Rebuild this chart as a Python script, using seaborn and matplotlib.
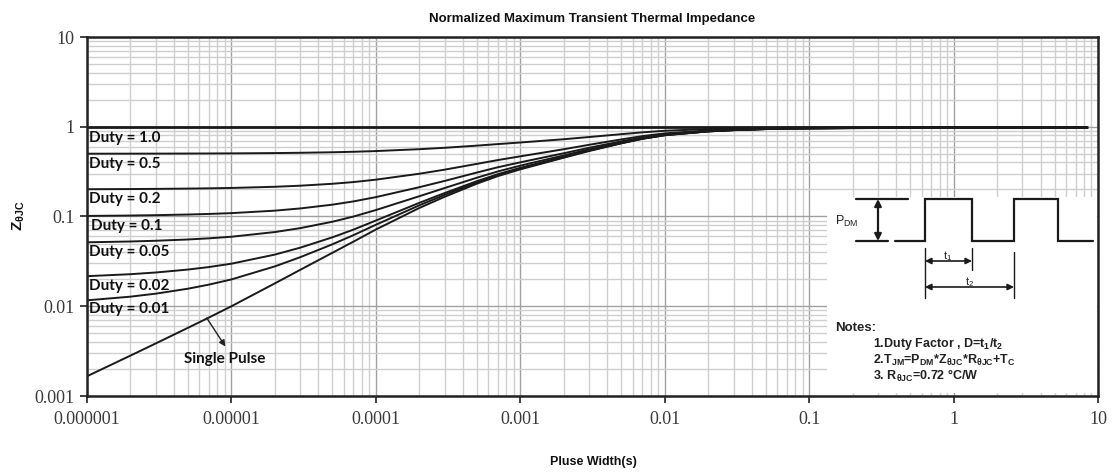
import numpy as np
import pandas as pd
import matplotlib
matplotlib.use("Agg")
import matplotlib.pyplot as plt
import seaborn as sns

# ---------------- data ----------------
pulse_width = [1e-6, 2e-6, 3e-6, 5e-6, 7e-6,
               1e-5, 2e-5, 3e-5, 5e-5, 7e-5,
               1e-4, 2e-4, 3e-4, 5e-4, 7e-4,
               1e-3, 2e-3, 3e-3, 5e-3, 7e-3,
               1e-2, 2e-2, 3e-2, 5e-2, 7e-2,
               0.1, 0.2, 0.5, 1.0, 8.5]

z_duty_1_0 = [1.0] * 30
z_duty_0_5 = [0.5008, 0.5014, 0.5019, 0.5029, 0.5038,
              0.505, 0.509, 0.5128, 0.5197, 0.5263,
              0.5358, 0.5623, 0.583, 0.616, 0.641,
              0.6675, 0.726, 0.7685, 0.8265, 0.8665,
              0.902, 0.9435, 0.958, 0.971, 0.9765,
              0.9795, 0.983, 0.985, 0.985, 0.985]
z_duty_0_2 = [0.2013, 0.2023, 0.2031, 0.2046, 0.206,
              0.208, 0.2144, 0.2204, 0.2315, 0.242,
              0.2573, 0.2996, 0.3328, 0.3856, 0.4256,
              0.468, 0.5616, 0.6296, 0.7224, 0.7864,
              0.8432, 0.9096, 0.9328, 0.9536, 0.9624,
              0.9672, 0.9728, 0.976, 0.976, 0.976]
z_duty_0_1 = [0.1015, 0.1025, 0.1035, 0.1052, 0.1068,
              0.109, 0.1162, 0.123, 0.1355, 0.1473,
              0.1644, 0.2121, 0.2494, 0.3088, 0.3538,
              0.4015, 0.5068, 0.5833, 0.6877, 0.7597,
              0.8236, 0.8983, 0.9244, 0.9478, 0.9577,
              0.9631, 0.9694, 0.973, 0.973, 0.973]
z_duty_0_05 = [0.05158, 0.05268, 0.05367, 0.05546, 0.05713,
               0.0595, 0.0671, 0.07423, 0.08743, 0.09988,
               0.118, 0.1683, 0.2077, 0.2704, 0.3179,
               0.3683, 0.4794, 0.5602, 0.6704, 0.7464,
               0.8138, 0.8927, 0.9202, 0.9449, 0.9554,
               0.9611, 0.9677, 0.9715, 0.9715, 0.9715]
z_duty_0_02 = [0.02163, 0.02276, 0.02378, 0.02564, 0.02735,
               0.0298, 0.03764, 0.04499, 0.05861, 0.07145,
               0.09017, 0.142, 0.1827, 0.2474, 0.2964,
               0.3483, 0.463, 0.5463, 0.6599, 0.7383,
               0.8079, 0.8893, 0.9177, 0.9432, 0.9539,
               0.9598, 0.9667, 0.9706, 0.9706, 0.9706]
z_duty_0_01 = [0.01164, 0.01279, 0.01382, 0.01569, 0.01743,
               0.0199, 0.02782, 0.03525, 0.04901, 0.06198,
               0.08088, 0.1333, 0.1743, 0.2397, 0.2892,
               0.3417, 0.4575, 0.5416, 0.6565, 0.7357,
               0.806, 0.8881, 0.9168, 0.9426, 0.9535,
               0.9594, 0.9663, 0.9703, 0.9703, 0.9703]
z_single = [0.00166, 0.00282, 0.00386, 0.00575, 0.0075,
            0.0100, 0.0180, 0.0255, 0.0394, 0.0525,
            0.0716, 0.1245, 0.166, 0.232, 0.282,
            0.335, 0.452, 0.537, 0.653, 0.733,
            0.804, 0.887, 0.916, 0.942, 0.953,
            0.959, 0.966, 0.970, 0.970, 0.970]

series_names = ["Duty = 1.0", "Duty = 0.5", "Duty = 0.2", "Duty = 0.1",
                "Duty = 0.05", "Duty = 0.02", "Duty = 0.01", "Single Pulse"]
series_vals = [z_duty_1_0, z_duty_0_5, z_duty_0_2, z_duty_0_1,
               z_duty_0_05, z_duty_0_02, z_duty_0_01, z_single]

x_ticks = [1e-6, 1e-5, 1e-4, 1e-3, 1e-2, 1e-1, 1, 10]
x_tick_labels = ["0.000001", "0.00001", "0.0001", "0.001", "0.01", "0.1", "1", "10"]
y_ticks = [0.001, 0.01, 0.1, 1, 10]
y_tick_labels = ["0.001", "0.01", "0.1", "1", "10"]

# label anchor positions (x, y in data coords)
label_pos = {
    "Duty = 1.0": (1.03e-6, 0.748),
    "Duty = 0.5": (1.03e-6, 0.384),
    "Duty = 0.2": (1.03e-6, 0.156),
    "Duty = 0.1": (1.07e-6, 0.0774),
    "Duty = 0.05": (1.03e-6, 0.0401),
    "Duty = 0.02": (1.03e-6, 0.0166),
    "Duty = 0.01": (1.03e-6, 0.00929),
}

df = pd.concat([pd.DataFrame({"t": pulse_width, "z": v, "curve": n})
                for n, v in zip(series_names, series_vals)], ignore_index=True)

# ---------------- figure ----------------
sns.set_theme(style="white")
plt.rcParams["font.family"] = ["Liberation Sans", "DejaVu Sans"]
plt.rcParams["mathtext.fontset"] = "custom"
plt.rcParams["mathtext.rm"] = "Liberation Sans"
plt.rcParams["mathtext.bf"] = "Liberation Sans:bold"
plt.rcParams["mathtext.it"] = "Liberation Sans:italic"

W, H = 1114, 473
fig = plt.figure(figsize=(W / 100, H / 100), dpi=100)
fig.patch.set_facecolor("white")
L, R, T, B = 87, 1098, 37, 396
ax = fig.add_axes([L / W, 1 - B / H, (R - L) / W, (B - T) / H])

sns.lineplot(data=df, x="t", y="z", hue="curve", hue_order=series_names,
             palette=["#1a1a1a"] * len(series_names), legend=False,
             estimator=None, sort=True, ax=ax, linewidth=1.4)
for ln in ax.get_lines():
    ln.set_solid_capstyle("butt")
ax.get_lines()[0].set_linewidth(2.0)
ax.set_xlabel("")
ax.set_ylabel("")

ax.set_xscale("log")
ax.set_yscale("log")
ax.set_xlim(1e-6, 10)
ax.set_ylim(1e-3, 10)

ax.set_xticks(x_ticks)
ax.set_xticklabels(x_tick_labels)
ax.set_yticks(y_ticks)
ax.set_yticklabels(y_tick_labels)
ax.xaxis.set_minor_locator(matplotlib.ticker.LogLocator(base=10, subs=np.arange(2, 10), numticks=20))
ax.yaxis.set_minor_locator(matplotlib.ticker.LogLocator(base=10, subs=np.arange(2, 10), numticks=20))
ax.xaxis.set_minor_formatter(matplotlib.ticker.NullFormatter())
ax.yaxis.set_minor_formatter(matplotlib.ticker.NullFormatter())

ax.grid(True, which="major", color="#a0a0a0", linewidth=1.0)
ax.grid(True, which="minor", color="#cfcfcf", linewidth=1.0)
ax.set_axisbelow(True)

for lab in ax.get_xticklabels() + ax.get_yticklabels():
    lab.set_family(["Liberation Serif", "DejaVu Serif"])
    lab.set_fontsize(13)
    lab.set_color("#3a3a3a")
ax.tick_params(axis="both", which="major", direction="out", length=5, width=1.2,
               color="#222222", bottom=True, left=True, pad=4)
ax.tick_params(axis="both", which="minor", length=0)
ax.tick_params(axis="x", pad=6)

for sp in ax.spines.values():
    sp.set_color("#222222")
    sp.set_linewidth(1.8)

ax.set_title("Normalized Maximum Transient Thermal Impedance",
             fontsize=9.5, fontweight="bold", pad=11, color="#111111")
fig.text(593 / W, 1 - 462 / H, "Pluse Width(s)", fontsize=9, fontweight="bold",
         ha="center", va="center", color="#111111")
fig.text(19 / W, 1 - 216 / H, r"$\mathbf{Z}_{\mathbf{\theta JC}}$", fontsize=11,
         rotation=90, ha="center", va="center", color="#111111")

lab_font = ["Lato", "DejaVu Sans"]
for name, (lx, ly) in label_pos.items():
    ax.text(lx, ly, name, fontsize=11, fontweight="bold", family=lab_font,
            ha="left", va="center", color="#111111", zorder=5)

ax.annotate("", xy=(9.08e-6, 0.00356), xytext=(6.75e-6, 0.0074),
            arrowprops=dict(arrowstyle="-|>", color="#222222", lw=1.0,
                            mutation_scale=9, shrinkA=0, shrinkB=0), zorder=5)
ax.text(9.04e-6, 0.00259, "Single Pulse", fontsize=11, fontweight="bold",
        family=lab_font, ha="center", va="center", color="#111111", zorder=5)

# ---------------- inset schematic (drawn in its own pixel-like frame) ----------------
bx0, bx1, by0, by1 = 827, 1097, 197, 393
axi = fig.add_axes([bx0 / W, 1 - by1 / H, (bx1 - bx0) / W, (by1 - by0) / H])
axi.set_xlim(bx0, bx1)
axi.set_ylim(by1, by0)
axi.set_facecolor("white")
axi.set_xticks([])
axi.set_yticks([])
for sp in axi.spines.values():
    sp.set_visible(False)

lc = "#1a1a1a"
axi.plot([856, 908], [199, 199], color=lc, lw=1.6)
axi.plot([856, 888], [241, 241], color=lc, lw=1.6)
axi.annotate("", xy=(878, 199), xytext=(878, 241),
             arrowprops=dict(arrowstyle="<|-|>", color=lc, lw=1.6,
                             mutation_scale=10, shrinkA=0, shrinkB=0))
axi.plot([895, 925, 925, 972, 972, 1014, 1014, 1058, 1058, 1093],
         [241, 241, 199, 199, 241, 241, 199, 199, 241, 241],
         color=lc, lw=1.6, solid_joinstyle="miter")
axi.plot([925, 925], [248, 298], color=lc, lw=1.0)
axi.plot([972, 972], [248, 270], color=lc, lw=1.0)
axi.plot([1014, 1014], [252, 298], color=lc, lw=1.0)
axi.annotate("", xy=(925, 261), xytext=(972, 261),
             arrowprops=dict(arrowstyle="<|-|>", color=lc, lw=1.2,
                             mutation_scale=9, shrinkA=0, shrinkB=0))
axi.annotate("", xy=(925, 287), xytext=(1014, 287),
             arrowprops=dict(arrowstyle="<|-|>", color=lc, lw=1.2,
                             mutation_scale=9, shrinkA=0, shrinkB=0))

nf = ["Liberation Sans Narrow", "Liberation Sans", "DejaVu Sans"]
axi.text(835, 221, r"P$_{\mathrm{DM}}$", fontsize=9, family=nf, ha="left", va="center", color="#222222")
axi.text(948, 256, r"t$_{\mathrm{1}}$", fontsize=8, family=nf, ha="center", va="center", color="#222222")
axi.text(970, 282, r"t$_{\mathrm{2}}$", fontsize=8, family=nf, ha="center", va="center", color="#222222")
axi.text(835, 328, "Notes:", fontsize=9.5, fontweight="bold", family=nf,
         ha="left", va="center", color="#222222")
axi.text(873, 344, r"1.Duty Factor , D=t$_{\mathbf{1}}$/t$_{\mathbf{2}}$", fontsize=9,
         fontweight="bold", family=nf, ha="left", va="center", color="#222222")
axi.text(873, 360, r"2.T$_{\mathbf{JM}}$=P$_{\mathbf{DM}}$*Z$_{\mathbf{\theta JC}}$*R$_{\mathbf{\theta JC}}$+T$_{\mathbf{C}}$",
         fontsize=9, fontweight="bold", family=nf, ha="left", va="center", color="#222222")
axi.text(873, 376, r"3. R$_{\mathbf{\theta JC}}$=0.72 °C/W", fontsize=9,
         fontweight="bold", family=nf, ha="left", va="center", color="#222222")

fig.savefig("out.png", dpi=100, facecolor="white")
